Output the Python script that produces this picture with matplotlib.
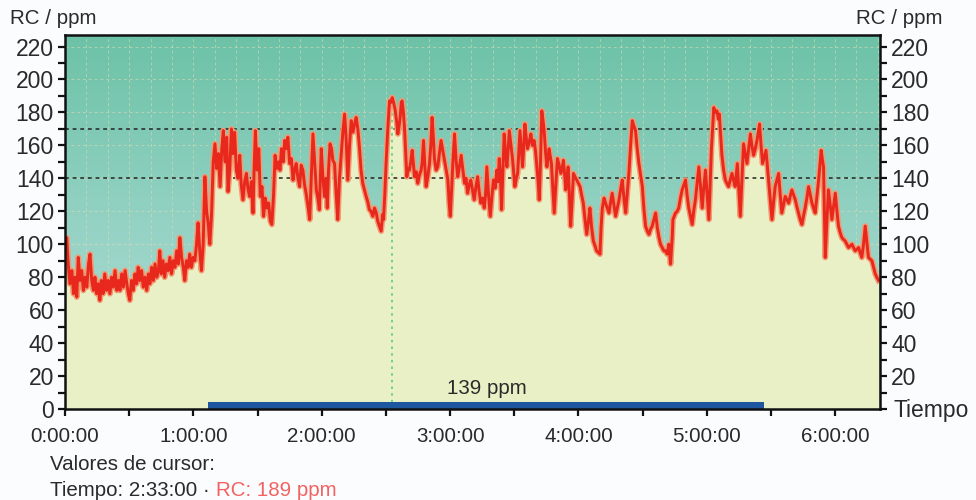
import numpy as np
import matplotlib
matplotlib.use("Agg")
import matplotlib.pyplot as plt
from matplotlib.colors import LinearSegmentedColormap
from matplotlib.ticker import MultipleLocator, FuncFormatter

plt.rcParams['font.family'] = ['Liberation Sans', 'DejaVu Sans']

# ---- data (time in minutes, RC in ppm) ----
time_min = [
    0, 0.8, 1.5, 2.3, 3.2, 4, 4.7, 5.5, 6.2, 7, 7.8, 8.6, 9.4, 10.2, 11, 11.7, 12.5, 13.3, 14, 14.8,
    15.6, 16.3, 17, 17.8, 18.6, 19.4, 20.2, 21, 21.8, 22.6, 23.4, 24.2, 25, 25.7, 26.5, 27.3, 28.1, 28.9,
    29.6, 30.3, 31.1, 31.9, 32.7, 33.5, 34.2, 35, 35.8, 36.6, 37.4, 38.2, 39, 39.7, 40.5, 41.3, 42.1,
    42.9, 43.7, 44.3, 45, 45.8, 46.6, 47.4, 48.2, 49, 49.8, 50.6, 51.4, 52.2, 53, 53.7, 54.5, 55.3, 56,
    56.8, 57.6, 58.3, 59.1, 59.9, 60.7, 61.5, 62.2, 63, 63.8, 64.6, 65.4, 66.2, 67, 67.7, 68.5, 69.3,
    70.1, 70.9, 71.7, 72.5, 73.3, 74, 74.8, 75.6, 76.2, 77, 77.8, 78.5, 79.3, 80.1, 80.9, 81.7, 82.4,
    83.2, 84, 84.8, 85.5, 86.3, 87.1, 87.9, 88.5, 89, 89.8, 90.6, 91.3, 92.1, 92.8, 93.6, 94.4, 95.2,
    96, 96.7, 97.5, 98.2, 99, 99.8, 100.5, 101.2, 102, 102.7, 103.5, 104.2, 105, 105.8, 106.6, 107.3,
    108.1, 108.9, 109.7, 110.4, 111.2, 112, 112.7, 113.5, 114.4, 115.1, 115.9, 116.7, 117.5, 118.2,
    118.9, 119.8, 120.5, 121.3, 122, 122.6, 123.2, 123.9, 124.6, 125.2, 126, 126.8, 127.5, 128.3,
    129.1, 129.9, 130.7, 131.4, 132.2, 133, 133.8, 134.6, 135.4, 136.1, 136.9, 137.7, 138.4, 139.2,
    140, 140.8, 141.5, 142.3, 143.1, 143.9, 144.7, 145.5, 146.2, 147, 147.8, 148.5, 148.9, 149.5,
    150.1, 150.9, 151.7, 152.3, 153, 153.6, 154.3, 155, 155.6, 156.2, 156.7, 157.2, 157.6, 158.2,
    158.7, 159.3, 159.8, 160.4, 161, 161.6, 162.3, 162.9, 163.4, 164.2, 164.9, 165.7, 166.5, 167,
    167.6, 168.2, 168.8, 169.6, 170.4, 171, 171.6, 172.2, 172.7, 173.5, 174.3, 175, 175.8, 176.6,
    177.4, 178.2, 179, 179.6, 180.1, 180.7, 181.3, 181.7, 182.1, 182.9, 183.6, 184.4, 185.2, 186,
    186.8, 187.5, 188.2, 189, 189.7, 190.5, 191.3, 192.1, 192.9, 193.6, 194.4, 195.2, 196, 196.6,
    197.2, 198, 198.8, 199.5, 200.3, 201.1, 201.9, 202.5, 203, 203.6, 204.1, 204.7, 205.3, 206,
    206.6, 207.2, 207.7, 208.5, 209.2, 209.8, 210.3, 211, 211.6, 212.1, 212.7, 213.3, 213.9, 214.5,
    215, 215.6, 216.2, 217, 217.8, 218.5, 219.3, 220, 220.6, 221.2, 221.7, 222.3, 222.9, 223.5, 224,
    224.7, 225.3, 225.8, 226.3, 226.9, 227.4, 228, 228.7, 229.4, 230.2, 231, 231.8, 232.4, 233,
    233.6, 234.1, 234.7, 235.2, 235.8, 236.4, 237, 237.7, 238.4, 239.2, 240, 240.8, 241.5, 242.3,
    243.1, 243.9, 244.7, 245.4, 246.2, 247, 247.8, 248.5, 249.3, 250.1, 250.6, 251.2, 252, 252.7,
    253.5, 254.3, 255, 255.8, 256.6, 257.4, 258.2, 259, 259.7, 260.5, 261.3, 262.1, 262.8, 263.6,
    264.4, 265.2, 265.9, 266.7, 267.5, 268.3, 269.1, 269.9, 270.6, 271.4, 272.2, 273, 273.7, 274.5,
    275.3, 276.1, 276.9, 277.7, 278.4, 279.2, 280, 280.8, 281.5, 282.3, 283.1, 283.9, 284.2, 284.8,
    285.4, 286.2, 286.9, 287.7, 288.5, 289.3, 290.1, 290.8, 291.6, 292.4, 293.2, 293.9, 294.7, 295.5,
    296.3, 297.1, 297.9, 298.6, 299.4, 300.2, 301, 301.6, 302.2, 302.8, 303.3, 304, 304.8, 305.4,
    305.9, 306.5, 307.1, 307.9, 308.7, 309.4, 310.2, 311, 311.8, 312.5, 313.3, 313.8, 314.3, 315,
    315.7, 316.5, 317.2, 318, 318.8, 319.6, 320.4, 321.1, 321.9, 322.7, 323.5, 324.1, 324.7, 325.4,
    326.1, 326.9, 327.7, 328.3, 328.9, 329.7, 330.5, 331.2, 332, 332.8, 333.6, 334.3, 335.1, 335.9,
    336.7, 337.5, 338.3, 339, 339.8, 340.6, 341.4, 342.1, 342.9, 343.7, 344.5, 345.2, 346, 346.8,
    347.6, 348.4, 349.2, 349.9, 350.7, 351.5, 352.3, 352.9, 353.5, 354, 354.6, 355, 355.4, 356.1,
    356.9, 357.7, 358.5, 359.3, 360.1, 360.8, 361.6, 362.4, 363.2, 363.9, 364.7, 365.5, 366.3, 367.1,
    367.9, 368.6, 369.4, 370.2, 371, 371.7, 372.5, 373.3, 374.1, 374.9, 375.6, 376.4, 377.2, 378,
    378.8, 379.5, 380.3]

rc_ppm = [
    98, 104, 88, 76, 84, 70, 80, 68, 92, 78, 84, 72, 80, 74, 88, 94, 78, 72, 80, 70,
    76, 66, 78, 70, 82, 72, 78, 70, 80, 74, 84, 72, 78, 72, 82, 74, 84, 76,
    70, 66, 78, 72, 82, 76, 86, 78, 84, 74, 80, 72, 82, 76, 86, 78, 88,
    80, 84, 96, 82, 90, 80, 88, 84, 92, 82, 90, 86, 96, 88, 104, 92, 86, 78,
    90, 86, 94, 86, 92, 90, 100, 113, 96, 84, 100, 141, 120, 112, 100, 118, 150,
    161, 146, 155, 135, 158, 169, 150, 165, 132, 145, 170, 155, 168, 145, 140, 154, 136,
    127, 138, 143, 134, 129, 138, 119, 150, 169, 145, 158, 129, 135, 117, 128, 122, 125,
    114, 112, 130, 154, 146, 150, 145, 158, 150, 163, 158, 165, 149, 152, 139, 145,
    149, 140, 135, 148, 145, 136, 131, 124, 115, 140, 167, 150, 133, 128,
    121, 158, 142, 129, 140, 122, 145, 161, 158, 151, 149, 130, 115, 140,
    154, 168, 179, 165, 139, 160, 175, 168, 173, 177, 170, 158, 145, 137,
    133, 129, 126, 121, 120, 117, 122, 119, 114, 111, 108, 118, 115, 130,
    149, 170, 187, 186, 189, 186, 182, 175, 167, 172, 177, 186, 187, 180,
    171, 155, 141, 146, 145, 150, 157, 148, 141, 144, 137, 142, 145, 150,
    163, 148, 135, 141, 149, 160, 177, 165, 152, 145, 147, 155, 163, 157,
    151, 145, 139, 125, 117, 132, 149, 158, 167, 150, 141, 147, 154, 145,
    137, 140, 131, 136, 139, 133, 127, 135, 141, 132, 125, 128, 122, 130,
    147, 130, 117, 128, 139, 134, 145, 138, 152, 140, 121, 145, 167, 155,
    147, 158, 169, 160, 152, 143, 135, 140, 143, 155, 169, 158, 147, 160,
    173, 165, 158, 162, 167, 160, 163, 156, 147, 138, 127, 150, 181, 175, 169,
    155, 147, 152, 158, 153, 149, 135, 119, 135, 152, 148, 143, 146, 151,
    142, 133, 140, 147, 130, 111, 125, 143, 141, 139, 137, 135, 130, 125,
    115, 106, 114, 122, 110, 102, 99, 96, 95, 94, 110, 122, 128, 125,
    122, 119, 125, 131, 124, 117, 122, 127, 133, 139, 128, 119, 130, 143,
    160, 175, 172, 169, 158, 149, 142, 135, 122, 111, 108, 106, 109, 111,
    115, 119, 110, 104, 100, 98, 96, 96, 94, 100, 88, 105, 115, 117,
    119, 120, 122, 128, 133, 136, 139, 130, 122, 117, 112, 120, 127, 137,
    147, 135, 122, 134, 145, 130, 115, 136, 158, 172, 183, 180, 181, 176,
    179, 167, 154, 145, 139, 137, 135, 139, 143, 139, 135, 142, 149, 133,
    117, 140, 161, 155, 149, 158, 167, 160, 154, 158, 163, 168, 173, 160,
    149, 153, 157, 148, 139, 127, 115, 125, 135, 139, 143, 131, 119, 124,
    129, 127, 125, 129, 133, 130, 127, 123, 119, 115, 112, 117, 122, 128,
    135, 130, 125, 122, 119, 129, 139, 148, 157, 152, 147, 120, 92, 112,
    133, 124, 115, 123, 131, 121, 111, 107, 104, 103, 102, 100, 98, 99,
    100, 98, 96, 97, 98, 95, 92, 100, 111, 101, 92, 91, 90, 86,
    82, 80, 78]

threshold_levels = [170, 140]
avg_start_min = 66.7
avg_end_min = 327.0
avg_label = "139 ppm"
cursor_time_min = 153
cursor_value = 189
x_max_min = 381
y_max = 227

# ---- figure ----
fig = plt.figure(figsize=(9.76, 5.0), dpi=100, facecolor='#fbfcfd')
ax = fig.add_axes([65/976, 91/500, 815/976, 374/500])

t = np.array(time_min)
v = np.array(rc_ppm)

# gradient background
cmap = LinearSegmentedColormap.from_list('bg', ['#b7dfd8', '#94d2c4', '#6cc2a6'])
grad = np.linspace(0, 1, 256).reshape(-1, 1)
ax.imshow(grad, extent=[0, x_max_min, 0, y_max], origin='lower', aspect='auto',
          cmap=cmap, zorder=0, interpolation='bilinear')

# light dashed grid (below fill)
for gx in np.arange(10, x_max_min, 10):
    ax.axvline(gx, color='#e6dcb8', lw=0.7, ls=(0, (3, 3)), zorder=1, alpha=0.55)
for gy in np.arange(20, 221, 20):
    ax.axhline(gy, color='#e6dcb8', lw=0.7, ls=(0, (3, 3)), zorder=1, alpha=0.55)

# fill under curve
ax.fill_between(t, 0, v, color='#eaf0c6', zorder=2, lw=0)

# threshold lines
for lvl in threshold_levels:
    ax.axhline(lvl, color='#222222', lw=1.1, ls=(0, (2.5, 2.5)), zorder=3)

# cursor line
ax.vlines(cursor_time_min, 0, cursor_value, colors='#5ccf7a', lw=1.2,
          linestyles=(0, (1.5, 2.5)), zorder=3)

# signal
ax.plot(t, v, color='#f29a72', lw=4.2, zorder=4, solid_joinstyle='round')
ax.plot(t, v, color='#e8281c', lw=2.1, zorder=5, solid_joinstyle='round')

# average bar
ax.fill_between([avg_start_min, avg_end_min], 0, 4.4, color='#1f56a0', zorder=6, lw=0)
ax.text((avg_start_min + avg_end_min) / 2 + 0.5, 12.5, avg_label, ha='center', va='center',
        fontsize=14.8, color='#2a2a2a', zorder=7)

ax.set_xlim(0, x_max_min)
ax.set_ylim(0, y_max)

# ticks
def fmt_time(x, pos):
    m = int(round(x))
    return f"{m // 60}:{m % 60:02d}:00"

ax.xaxis.set_major_locator(MultipleLocator(60))
ax.xaxis.set_minor_locator(MultipleLocator(30))
ax.xaxis.set_major_formatter(FuncFormatter(fmt_time))
ax.yaxis.set_major_locator(MultipleLocator(20))
ax.yaxis.set_minor_locator(MultipleLocator(10))

ax.tick_params(axis='x', which='both', direction='out', length=5, width=1.6,
               colors='#111111', labelsize=14.8, labelcolor='#2a2a2a', pad=8)
ax.tick_params(axis='y', which='both', direction='out', length=5, width=1.6,
               colors='#111111', labelsize=16.5, labelcolor='#2a2a2a',
               left=True, right=True, labelleft=True, labelright=True, pad=3)

for s in ax.spines.values():
    s.set_linewidth(1.8)
    s.set_color('#111111')
    s.set_zorder(8)

# axis titles
fig.text(10/976, 1 - 19/500, "RC / ppm", fontsize=14.8, color='#2a2a2a', ha='left', va='center')
fig.text(942/976, 1 - 19/500, "RC / ppm", fontsize=14.8, color='#2a2a2a', ha='right', va='center')
fig.text(894/976, 1 - 411/500, "Tiempo", fontsize=16.5, color='#2a2a2a', ha='left', va='center')

# cursor values
fig.text(50/976, 1 - 464/500, "Valores de cursor:", fontsize=14.8, color='#2a2a2a',
         ha='left', va='center')
t1 = fig.text(50/976, 1 - 490/500, "Tiempo: 2:33:00 · ", fontsize=14.8, color='#2a2a2a',
              ha='left', va='center')
fig.canvas.draw()

# the right-hand "0" is replaced by the "Tiempo" axis title
for loc, tick in zip(ax.get_yticks(), ax.yaxis.get_major_ticks()):
    if abs(loc) < 1e-9:
        tick.label2.set_visible(False)

bb = t1.get_window_extent()
fig.text(bb.x1 / fig.bbox.width, 1 - 490/500, "RC: 189 ppm", fontsize=14.8,
         color='#f26262', ha='left', va='center')

fig.savefig('out.png', dpi=100, facecolor=fig.get_facecolor())
